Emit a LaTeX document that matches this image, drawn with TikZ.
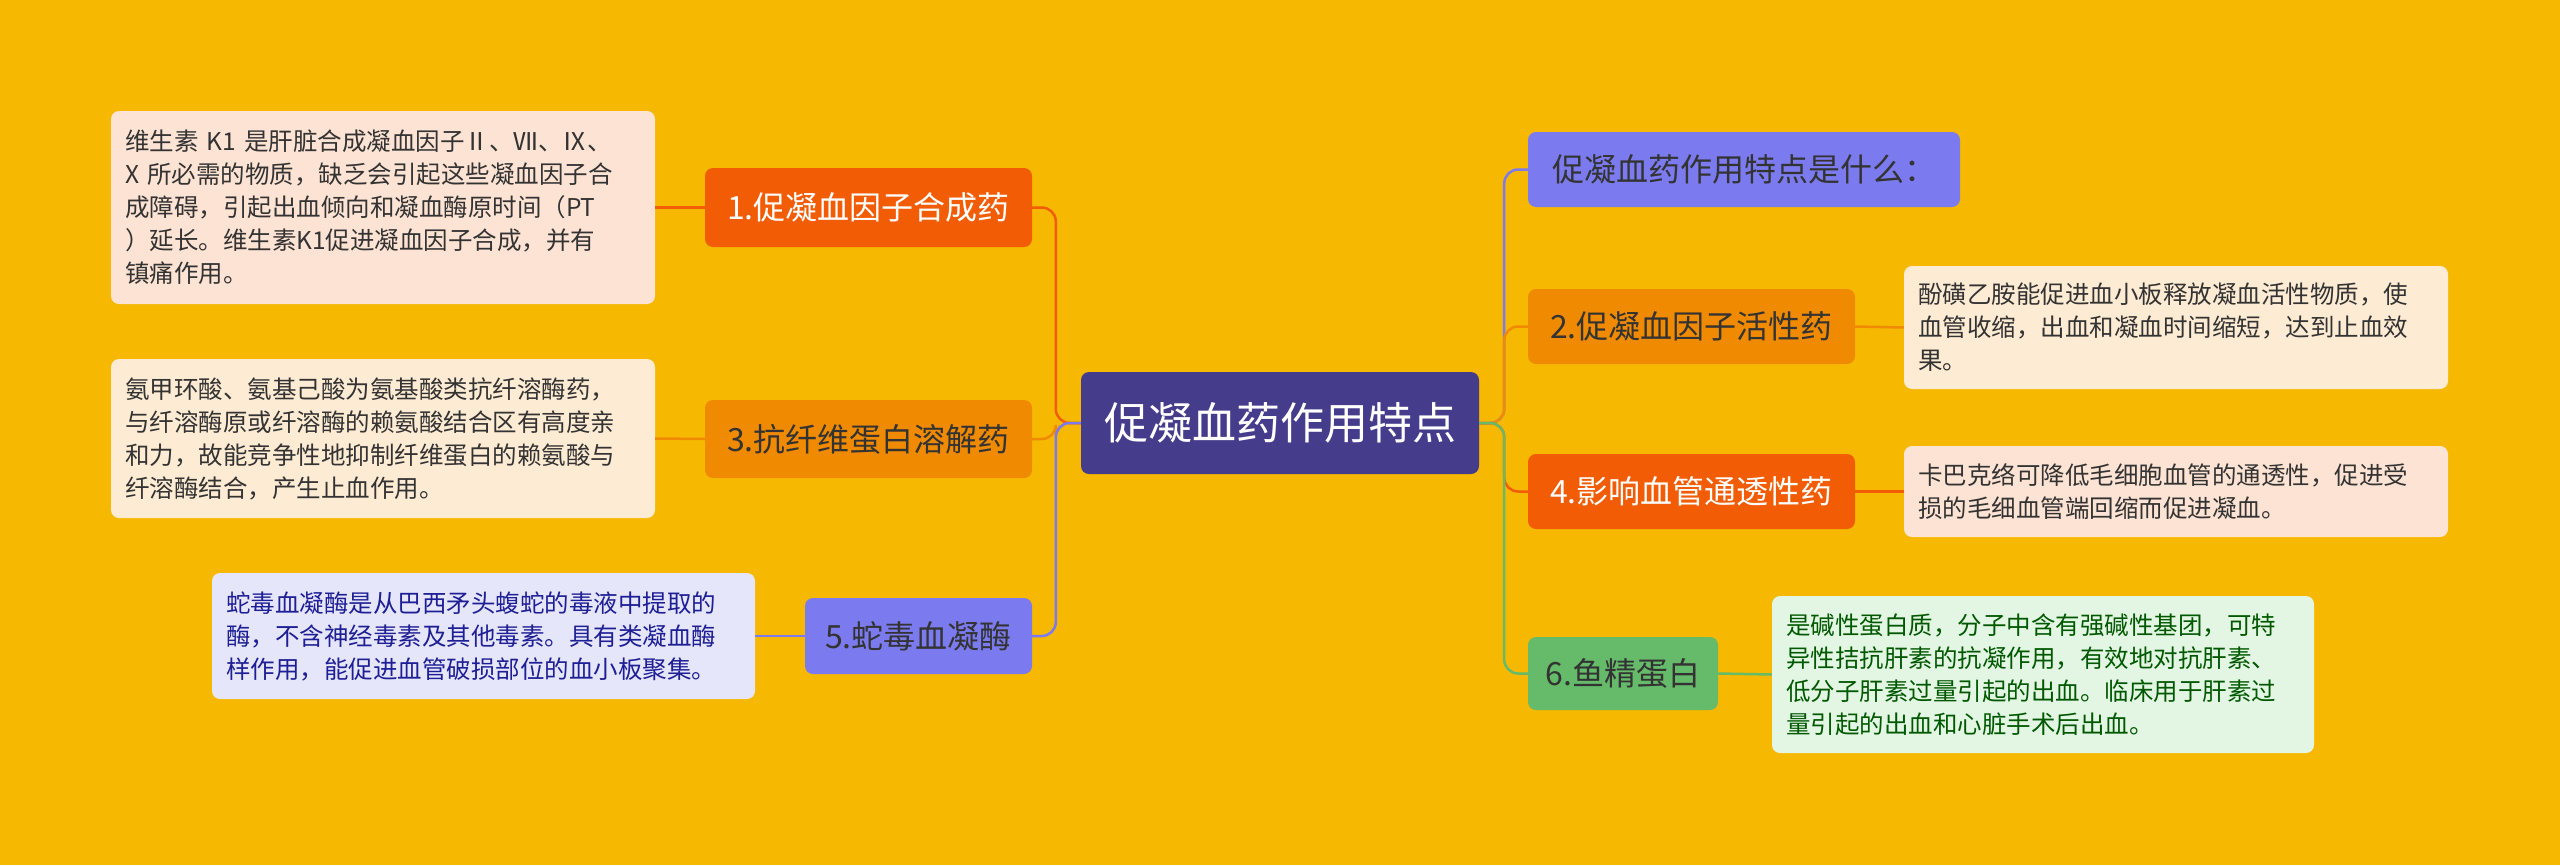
\documentclass[tikz,border=0pt]{standalone}
\usepackage{fontspec}
\setmainfont{Noto Sans CJK SC}
\begin{document}
\begin{tikzpicture}[x=1pt,y=-1pt,
  mainbox/.style={rounded corners=8pt,inner sep=0pt,font=\fontsize{32}{38}\selectfont},
  descbox/.style={rounded corners=8pt,inner sep=0pt,align=left,font=\fontsize{24.5}{33}\selectfont},
  conn/.style={line width=2.5pt,rounded corners=14pt}]
\definecolor{bg}{HTML}{F6B800}
\definecolor{cred}{HTML}{F25C05}
\definecolor{corg}{HTML}{F08A00}
\definecolor{cblu}{HTML}{7B7BEF}
\definecolor{cgrn}{HTML}{66BB6A}
\definecolor{cind}{HTML}{463C8C}
\definecolor{dred}{HTML}{FDE3D3}
\definecolor{dorg}{HTML}{FDEBD3}
\definecolor{dblu}{HTML}{E6E6FA}
\definecolor{dgrn}{HTML}{E3F5E3}
\useasboundingbox[fill=bg] (0,0) rectangle (2560,865);

\node[mainbox,fill=cind,text=white,minimum width=398pt,minimum height=102pt,font=\fontsize{44}{50}\selectfont] (c) at (1280,423) {促凝血药作用特点};

\node[mainbox,fill=cred,text=white,minimum width=327pt,minimum height=79pt] (n1) at (868.5,207.5) {1.促凝血因子合成药};
\node[mainbox,fill=corg,text=black!80,minimum width=327pt,minimum height=78pt] (n3) at (868.5,439) {3.抗纤维蛋白溶解药};
\node[mainbox,fill=cblu,text=black!80,minimum width=227pt,minimum height=76pt] (n5) at (918.5,636) {5.蛇毒血凝酶};

\node[mainbox,fill=cblu,text=black!80,minimum width=432pt,minimum height=75pt] (q) at (1744,169.5) {促凝血药作用特点是什么：};
\node[mainbox,fill=corg,text=black!80,minimum width=327pt,minimum height=75pt] (n2) at (1691.5,326.5) {2.促凝血因子活性药};
\node[mainbox,fill=cred,text=white,minimum width=327pt,minimum height=75pt] (n4) at (1691.5,491.5) {4.影响血管通透性药};
\node[mainbox,fill=cgrn,text=black!80,minimum width=190pt,minimum height=73pt] (n6) at (1623,673.5) {6.鱼精蛋白};

\node[descbox,fill=dred,text=black!80,minimum width=544pt,minimum height=193pt,text width=516pt] (d1) at (383,207.5) {维生素 K1 是肝脏合成凝血因子Ⅱ、Ⅶ、Ⅸ、\\X 所必需的物质，缺乏会引起这些凝血因子合\\成障碍，引起出血倾向和凝血酶原时间（PT\\）延长。维生素K1促进凝血因子合成，并有\\镇痛作用。};
\node[descbox,fill=dorg,text=black!80,minimum width=544pt,minimum height=159pt,text width=516pt] (d3) at (383,438.5) {氨甲环酸、氨基己酸为氨基酸类抗纤溶酶药，\\与纤溶酶原或纤溶酶的赖氨酸结合区有高度亲\\和力，故能竞争性地抑制纤维蛋白的赖氨酸与\\纤溶酶结合，产生止血作用。};
\node[descbox,fill=dblu,text=cblu!40!blue!60!black,minimum width=543pt,minimum height=126pt,text width=515pt] (d5) at (483.5,636) {蛇毒血凝酶是从巴西矛头蝮蛇的毒液中提取的\\酶，不含神经毒素及其他毒素。具有类凝血酶\\样作用，能促进血管破损部位的血小板聚集。};
\node[descbox,fill=dorg,text=black!80,minimum width=544pt,minimum height=123pt,text width=516pt] (d2) at (2176,327.5) {酚磺乙胺能促进血小板释放凝血活性物质，使\\血管收缩，出血和凝血时间缩短，达到止血效\\果。};
\node[descbox,fill=dred,text=black!80,minimum width=544pt,minimum height=91pt,text width=516pt] (d4) at (2176,491.5) {卡巴克络可降低毛细胞血管的通透性，促进受\\损的毛细血管端回缩而促进凝血。};
\node[descbox,fill=dgrn,text=green!35!black,minimum width=542pt,minimum height=157pt,text width=514pt] (d6) at (2043,674.5) {是碱性蛋白质，分子中含有强碱性基团，可特\\异性拮抗肝素的抗凝作用，有效地对抗肝素、\\低分子肝素过量引起的出血。临床用于肝素过\\量引起的出血和心脏手术后出血。};

\begin{scope}[on background layer/.style={}]
\end{scope}
\draw[conn,cred] (c.west) -- ++(-25,0) |- (n1.east);
\draw[conn,corg] (c.west) -- ++(-25,0) |- (n3.east);
\draw[conn,cblu] (c.west) -- ++(-25,0) |- (n5.east);
\draw[conn,cblu] (c.east) -- ++(25,0) |- (q.west);
\draw[conn,corg] (c.east) -- ++(25,0) |- (n2.west);
\draw[conn,cred] (c.east) -- ++(25,0) |- (n4.west);
\draw[conn,cgrn] (c.east) -- ++(25,0) |- (n6.west);
\draw[line width=2.5pt,cred] (n1.west) -- (d1.east);
\draw[line width=2.5pt,corg] (n3.west) -- (d3.east);
\draw[line width=2.5pt,cblu] (n5.west) -- (d5.east);
\draw[line width=2.5pt,corg] (n2.east) -- (d2.west);
\draw[line width=2.5pt,cred] (n4.east) -- (d4.west);
\draw[line width=2.5pt,cgrn] (n6.east) -- (d6.west);
\end{tikzpicture}
\end{document}
